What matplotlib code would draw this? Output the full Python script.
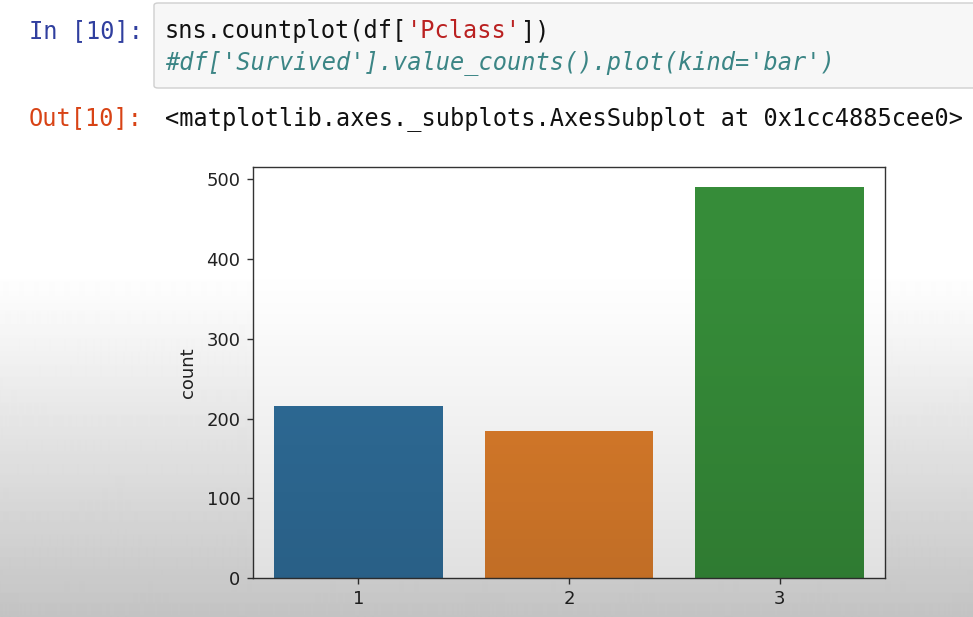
import numpy as np
import matplotlib
matplotlib.use("Agg")
import matplotlib.pyplot as plt
from matplotlib.patches import FancyBboxPatch

# data
pclass = ['1', '2', '3']
counts = [216, 184, 491]
bar_colors = ['#2f6d99', '#dc7d2b', '#368c39']
yticks = [0, 100, 200, 300, 400, 500]

W, H = 973, 617
fig = plt.figure(figsize=(W / 100, H / 100), dpi=100)
fig.patch.set_facecolor('white')
renderer = fig.canvas.get_renderer()


def fx(px):
    return px / W


def fy(py):
    return 1 - py / H


def code_line(x_px, base_px, parts, **kw):
    # draw coloured pieces one after another on the same baseline
    x = fx(x_px)
    for s, col, style in parts:
        t = fig.text(x, fy(base_px), s, family=mono, fontsize=17, color=col,
                     style=style, va='baseline', **kw)
        bb = t.get_window_extent(renderer)
        x = fx(bb.x1)


# video background: grey fade at the bottom of the frame
bg = fig.add_axes([0, 0, 1, 1], zorder=-5)
bg.axis('off')
rows = np.arange(H)
ramp = np.clip((rows - 265) / (H - 265), 0, 1) ** 1.1
shade = 1 - 0.11 * ramp
bg.imshow(np.repeat(shade[:, None], 2, axis=1), cmap='gray', vmin=0, vmax=1,
          aspect='auto', extent=[0, 1, 0, 1], interpolation='bilinear')

# code cell
mono = 'DejaVu Sans Mono'
box = FancyBboxPatch((fx(154), fy(88)), fx(840), fy(3) - fy(88),
                     boxstyle='round,pad=0,rounding_size=0.004',
                     transform=fig.transFigure, facecolor='#f7f7f7',
                     edgecolor='#cfcfcf', linewidth=1.0)
fig.patches.append(box)

code_line(29, 38, [('In [10]:', '#303f9f', 'normal')])
code_line(165, 38, [("sns.countplot(df[", '#111111', 'normal'),
                    ("'Pclass'", '#ba2121', 'normal'),
                    ("])", '#111111', 'normal')])
code_line(165, 69, [("#df['Survived'].value_counts().plot(kind='bar')",
                     '#3b8585', 'italic')])
code_line(29, 125, [('Out[10]:', '#d84315', 'normal')])
code_line(165, 125, [('<matplotlib.axes._subplots.AxesSubplot at 0x1cc4885cee0>',
                      '#111111', 'normal')])

# the countplot
ax = fig.add_axes([fx(253), fy(578), fx(885) - fx(253), fy(167) - fy(578)])
ax.set_facecolor('white')
x = np.arange(len(pclass))
ax.bar(x, counts, width=0.8, color=bar_colors)
ax.set_xlim(-0.5, len(pclass) - 0.5)
ax.set_ylim(0, max(counts) * 1.05)
ax.set_xticks(x)
ax.set_xticklabels(pclass)
ax.set_yticks(yticks)
ax.set_ylabel('count', fontsize=13, color='#222222', labelpad=7)
ax.tick_params(labelsize=13, labelcolor='#222222', length=4.5, width=1.0,
               pad=4.5, color='#333333')
for sp in ax.spines.values():
    sp.set_color('#333333')
    sp.set_linewidth(1.0)

# darkening fade of the video frame over everything
ov = fig.add_axes([0, 0, 1, 1], zorder=10)
ov.axis('off')
ov.patch.set_alpha(0)
rgba = np.zeros((H, 2, 4))
rgba[:, :, 3] = (0.14 * ramp)[:, None]
ov.imshow(rgba, aspect='auto', extent=[0, 1, 0, 1], interpolation='bilinear')

fig.savefig('out.png', dpi=100, facecolor=fig.get_facecolor())
